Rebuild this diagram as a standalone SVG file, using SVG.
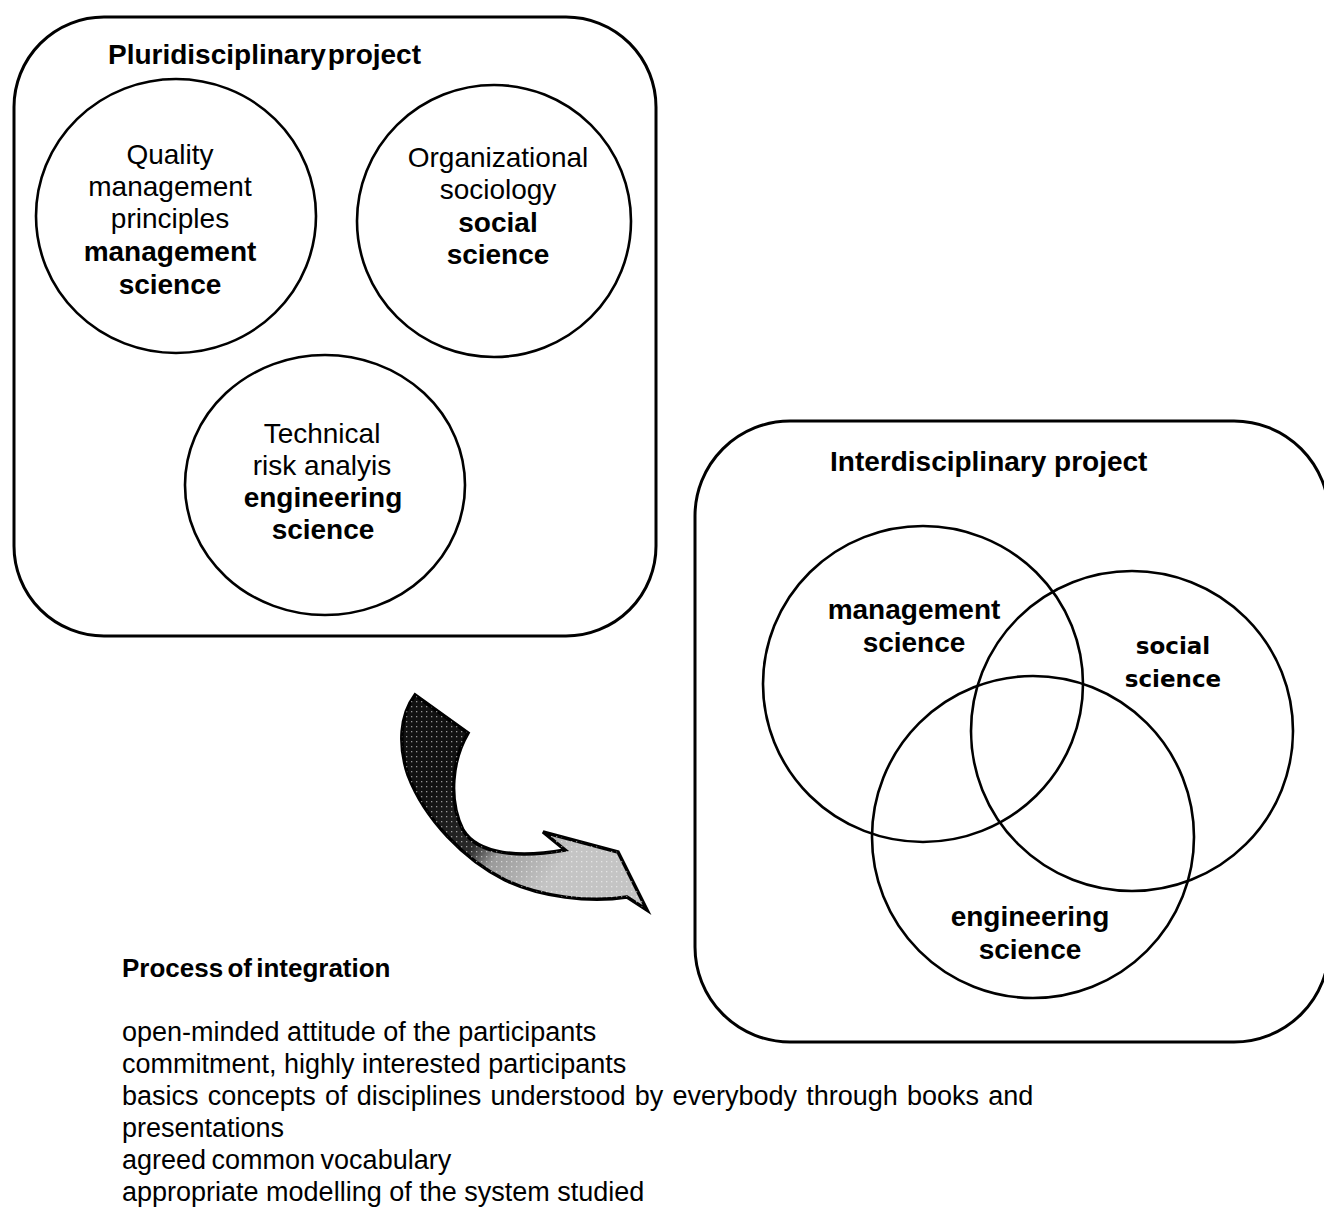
<svg xmlns="http://www.w3.org/2000/svg" width="1324" height="1208" viewBox="0 0 1324 1208">
<style>
text{font-family:"Liberation Sans",Arial,sans-serif;fill:#000}
.t{font-size:28px;text-anchor:middle}
.b{font-weight:bold}
.box{fill:none;stroke:#000;stroke-width:3}
.c{fill:none;stroke:#000;stroke-width:2.6}
.h{font-size:28px;font-weight:bold}
.l{font-size:27px}
.ss{font-family:"DejaVu Sans","Liberation Sans",sans-serif;font-weight:bold;font-size:23px;text-anchor:middle}
</style>
<defs>
<linearGradient id="arrowGrad" gradientUnits="userSpaceOnUse" x1="430" y1="795" x2="545" y2="885">
<stop offset="0" stop-color="#111"/>
<stop offset="0.45" stop-color="#2a2a2a"/>
<stop offset="0.62" stop-color="#9a9a9a"/>
<stop offset="1" stop-color="#c4c4c4"/>
</linearGradient>
<pattern id="dots" width="5" height="5" patternUnits="userSpaceOnUse">
<rect x="1" y="1" width="1.3" height="1.3" fill="#fff" opacity="0.55"/>
</pattern>
</defs>

<g id="pluri-box">
<rect class="box" x="14" y="17" width="642" height="619" rx="90" ry="90"/>
<text class="h" x="108" y="64" font-size="29" word-spacing="-6">Pluridisciplinary project</text>
</g>
<g id="quality">
<ellipse class="c" cx="176" cy="216" rx="140" ry="137"/>
<text class="t" x="170" y="164">Quality</text>
<text class="t" x="170" y="196">management</text>
<text class="t" x="170" y="228">principles</text>
<text class="t b" x="170" y="261">management</text>
<text class="t b" x="170" y="294">science</text>
</g>
<g id="organizational">
<ellipse class="c" cx="494" cy="221" rx="137" ry="136"/>
<text class="t" x="498" y="167">Organizational</text>
<text class="t" x="498" y="199">sociology</text>
<text class="t b" x="498" y="232">social</text>
<text class="t b" x="498" y="264">science</text>
</g>
<g id="technical">
<ellipse class="c" cx="325" cy="485" rx="140" ry="130"/>
<text class="t" x="322" y="443">Technical</text>
<text class="t" x="322" y="475">risk analyis</text>
<text class="t b" x="323" y="507">engineering</text>
<text class="t b" x="323" y="539">science</text>
</g>

<g id="inter-box">
<rect class="box" x="695" y="421" width="634" height="621" rx="95" ry="95"/>
<text class="h" x="830" y="471">Interdisciplinary project</text>
</g>
<g id="venn-management">
<ellipse class="c" cx="923" cy="684" rx="160" ry="158"/>
<text class="t b" x="914" y="619">management</text>
<text class="t b" x="914" y="652">science</text>
</g>
<g id="venn-social">
<ellipse class="c" cx="1132" cy="731" rx="161" ry="160"/>
<text class="ss" x="1173" y="654">social</text>
<text class="ss" x="1173" y="687">science</text>
</g>
<g id="venn-engineering">
<ellipse class="c" cx="1033" cy="837" rx="161" ry="161"/>
<text class="t b" x="1030" y="926">engineering</text>
<text class="t b" x="1030" y="959">science</text>
</g>

<g id="connectors">
<path d="M415,695 L468,733 C452,760 448,800 463,830 C478,855 520,858 565,850 L543,832 L618,852 L647,910 L627,897 C590,903 540,897 505,880 C465,860 425,820 408,775 C398,745 400,715 415,695 Z" fill="url(#arrowGrad)" stroke="#000" stroke-width="3.5" stroke-linejoin="miter"/>
<path d="M415,695 L468,733 C452,760 448,800 463,830 C478,855 520,858 565,850 L543,832 L618,852 L647,910 L627,897 C590,903 540,897 505,880 C465,860 425,820 408,775 C398,745 400,715 415,695 Z" fill="url(#dots)" stroke="none"/>
</g>

<g id="process">
<text class="b" x="122" y="977" font-size="26" word-spacing="-3">Process of integration</text>
<text class="l" x="122" y="1041">open-minded attitude of the participants</text>
<text class="l" x="122" y="1073">commitment, highly interested participants</text>
<text class="l" x="122" y="1105" word-spacing="1.7">basics concepts of disciplines understood by everybody through books and</text>
<text class="l" x="122" y="1137">presentations</text>
<text class="l" x="122" y="1169" word-spacing="-2">agreed common vocabulary</text>
<text class="l" x="122" y="1201">appropriate modelling of the system studied</text>
</g>
</svg>
